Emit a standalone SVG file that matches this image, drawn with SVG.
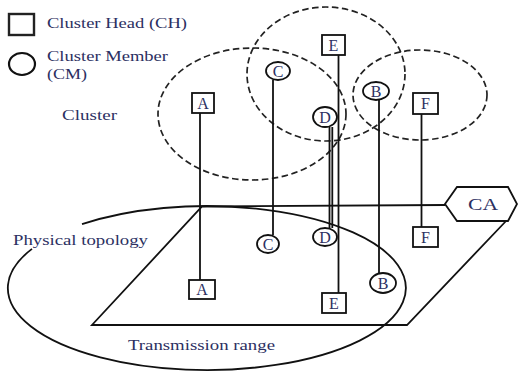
<svg xmlns="http://www.w3.org/2000/svg" width="518" height="374" viewBox="0 0 518 374">
<style>
.t{font-family:"Liberation Serif","Times New Roman",serif;font-size:15px;fill:#2c3062}
.n{font-family:"Liberation Serif","Times New Roman",serif;font-size:16px;fill:#2c3062;text-anchor:middle}
.cl{fill:none;stroke:#222;stroke-width:1.7;stroke-dasharray:6.5 3.5}
.sh{fill:#fff;stroke:#111;stroke-width:1.8}
.ln{stroke:#111;stroke-width:1.8;fill:none}
</style>
<rect width="518" height="374" fill="#fff"/>
<g id="legend">
<rect x="9" y="14" width="25" height="21" fill="#fff" stroke="#222" stroke-width="2.4"/>
<text class="t" x="47" y="28" textLength="140" lengthAdjust="spacingAndGlyphs">Cluster Head (CH)</text>
<ellipse cx="22" cy="64" rx="13" ry="11" fill="#fff" stroke="#111" stroke-width="2.2"/>
<text class="t" x="47" y="61" textLength="121" lengthAdjust="spacingAndGlyphs">Cluster Member</text>
<text class="t" x="47" y="79" textLength="40" lengthAdjust="spacingAndGlyphs">(CM)</text>
<text class="t" x="62" y="120" textLength="55" lengthAdjust="spacingAndGlyphs">Cluster</text>
</g>
<g id="clusters">
<ellipse class="cl" cx="252" cy="114" rx="94" ry="66"/>
<ellipse class="cl" cx="326" cy="74" rx="79" ry="67"/>
<ellipse class="cl" cx="420" cy="95" rx="67" ry="45"/>
</g>
<g id="physical-topology">
<path class="ln" d="M 82 224.2 A 199 82 0 1 1 32 248.9"/>
<text class="t" x="13" y="245" textLength="135" lengthAdjust="spacingAndGlyphs">Physical topology</text>
<text class="t" x="128" y="350" textLength="147" lengthAdjust="spacingAndGlyphs">Transmission range</text>
<path class="ln" d="M 445 205 L 202 206.5 L 92 325 L 407 325 L 507 220"/>
</g>
<g id="connectors">
<line class="ln" x1="200" y1="113" x2="200" y2="280"/>
<line class="ln" x1="273" y1="80" x2="273" y2="235"/>
<line class="ln" x1="338.5" y1="55" x2="338.5" y2="293" stroke-width="2.2"/>
<line class="ln" x1="329.5" y1="127" x2="329.5" y2="228" stroke-width="1.6"/>
<line class="ln" x1="332.3" y1="127" x2="332.3" y2="228" stroke-width="1.6"/>
<line class="ln" x1="379" y1="100" x2="379" y2="273" stroke-width="2"/>
<line class="ln" x1="421.5" y1="114" x2="421.5" y2="227"/>
</g>
<g id="CA">
<polygon class="sh" points="445,204 457,187 508,187 517,204 508,221 457,221"/>
<text class="n" x="483" y="210" textLength="30" lengthAdjust="spacingAndGlyphs">CA</text>
</g>
<g id="node-A-top"><rect class="sh" x="192" y="93" width="22" height="20"/><text class="n" x="203" y="109">A</text></g>
<g id="node-A-bottom"><rect class="sh" x="189" y="280" width="26" height="19"/><text class="n" x="202" y="295">A</text></g>
<g id="node-C-top"><ellipse class="sh" cx="278" cy="71" rx="12" ry="9"/><text class="n" x="278" y="76.5">C</text></g>
<g id="node-C-bottom"><ellipse class="sh" cx="268" cy="244" rx="11" ry="9"/><text class="n" x="268" y="249.5">C</text></g>
<g id="node-E-top"><rect class="sh" x="322" y="35" width="23" height="20"/><text class="n" x="333.5" y="51">E</text></g>
<g id="node-E-bottom"><rect class="sh" x="322" y="293" width="24" height="20"/><text class="n" x="334" y="309">E</text></g>
<g id="node-D-top"><ellipse class="sh" cx="325" cy="117" rx="12" ry="10"/><text class="n" x="325" y="122.5">D</text></g>
<g id="node-D-bottom"><ellipse class="sh" cx="325" cy="237" rx="12" ry="9"/><text class="n" x="325" y="242.5">D</text></g>
<g id="node-B-top"><ellipse class="sh" cx="376" cy="91" rx="13" ry="9"/><text class="n" x="376" y="96.5">B</text></g>
<g id="node-B-bottom"><ellipse class="sh" cx="383" cy="283" rx="13" ry="10"/><text class="n" x="383" y="288.5">B</text></g>
<g id="node-F-top"><rect class="sh" x="413" y="93" width="25" height="21"/><text class="n" x="425.5" y="109">F</text></g>
<g id="node-F-bottom"><rect class="sh" x="413" y="227" width="25" height="20"/><text class="n" x="425.5" y="243">F</text></g>
</svg>
